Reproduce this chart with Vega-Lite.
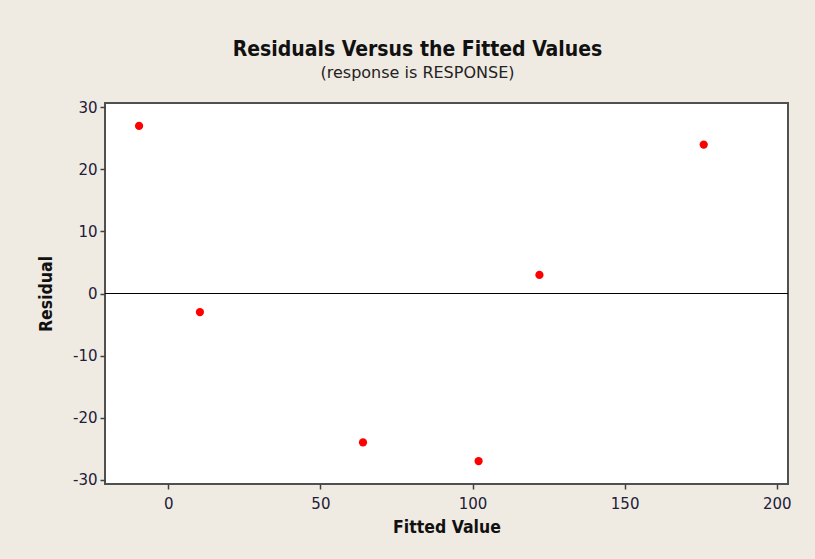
{
  "$schema": "https://vega.github.io/schema/vega-lite/v6.json",
  "autosize": "none",
  "width": 683,
  "height": 381,
  "padding": {"left": 105, "top": 103, "right": 27, "bottom": 75},
  "background": "#F0EBE2",
  "title": {
    "text": "Residuals Versus the Fitted Values",
    "subtitle": "(response is RESPONSE)",
    "anchor": "middle",
    "dx": -29,
    "offset": 19,
    "font": "DejaVu Sans Condensed",
    "fontSize": 21,
    "fontWeight": "bold",
    "color": "#111111",
    "subtitleFont": "DejaVu Sans",
    "subtitleFontSize": 16,
    "subtitleColor": "#222222",
    "subtitlePadding": 5
  },
  "config": {
    "view": {"fill": "white", "stroke": "#505050", "strokeWidth": 2},
    "axis": {
      "grid": false,
      "domain": false,
      "tickColor": "#404040",
      "tickSize": 5,
      "tickWidth": 1.5,
      "labelFont": "DejaVu Sans",
      "labelFontSize": 15,
      "labelColor": "#202038",
      "titleFont": "DejaVu Sans Condensed",
      "titleFontSize": 17.5,
      "titleFontWeight": "bold",
      "titleColor": "#111111"
    }
  },
  "data": {
    "values": [
      {"fitted": -9.6, "residual": 27},
      {"fitted": 10.4, "residual": -3},
      {"fitted": 64, "residual": -24},
      {"fitted": 102, "residual": -27},
      {"fitted": 122, "residual": 3},
      {"fitted": 176, "residual": 24}
    ]
  },
  "layer": [
    {
      "mark": {"type": "rule", "color": "#000000", "strokeWidth": 1.2},
      "encoding": {"y": {"datum": 0, "type": "quantitative"}}
    },
    {
      "mark": {"type": "point", "filled": true, "shape": "circle", "size": 68, "color": "#FF0000", "opacity": 1},
      "encoding": {
        "x": {
          "field": "fitted",
          "type": "quantitative",
          "title": "Fitted Value",
          "scale": {"domain": [-20.8, 203.7], "nice": false, "zero": false},
          "axis": {"values": [0, 50, 100, 150, 200], "titlePadding": 7, "labelPadding": 7}
        },
        "y": {
          "field": "residual",
          "type": "quantitative",
          "title": "Residual",
          "scale": {"domain": [-30.7, 30.7], "nice": false, "zero": false},
          "axis": {
            "values": [-30, -20, -10, 0, 10, 20, 30],
            "labelExpr": "(datum.value < 0 ? '-' : '') + abs(datum.value)",
            "titlePadding": 17,
            "labelPadding": 3
          }
        }
      }
    }
  ]
}
